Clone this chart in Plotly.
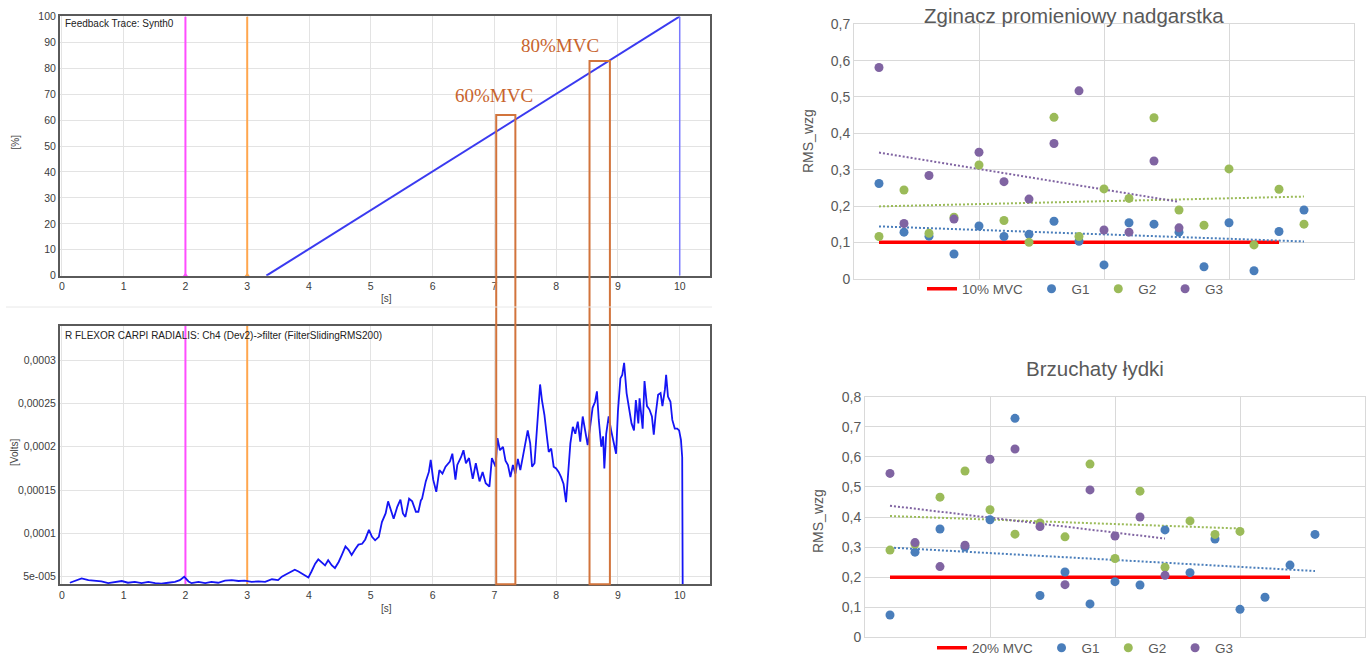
import numpy as np
import plotly.graph_objects as go

W, H = 1370, 655

# ---------------- data: feedback trace (top-left) ----------------
ramp_t = [3.31, 10.0]
ramp_pct = [0, 100]
end_t = [10.0, 10.0]
end_pct = [0, 100]
event_t = [2, 3]
event_colors = ["#ff4dff", "#ffa64d"]
mvc_labels = ["60%MVC", "80%MVC"]
mvc_windows = [(7.03, 7.34), (8.54, 8.87)]
mvc_levels = [62.0, 82.8]

# ---------------- data: EMG RMS (bottom-left), values in 1e-5 V ----------------
emg_t = [0.13, 0.21, 0.32, 0.43, 0.53, 0.64, 0.75, 0.86, 0.97, 1.07, 1.18, 1.29, 1.40, 1.51,
         1.61, 1.72, 1.83, 1.91, 1.98, 2.05, 2.10, 2.21, 2.32, 2.42, 2.53, 2.64, 2.75, 2.86,
         2.96, 3.07, 3.18, 3.29, 3.40,
         3.50, 3.56, 3.61, 3.69, 3.77, 3.83, 3.91, 3.99, 4.04, 4.10, 4.15, 4.21, 4.26, 4.31,
         4.37, 4.42, 4.48, 4.53, 4.59, 4.64, 4.69, 4.75, 4.80, 4.86, 4.91, 4.97, 5.02, 5.07,
         5.13, 5.18, 5.24, 5.28, 5.32, 5.37, 5.43, 5.48, 5.52, 5.56, 5.62, 5.67, 5.73, 5.77,
         5.81, 5.83, 5.89, 5.94, 5.97, 6.01, 6.06, 6.11, 6.16, 6.21, 6.28, 6.32, 6.37, 6.40,
         6.46, 6.50, 6.54, 6.59, 6.65, 6.70, 6.76, 6.81, 6.86, 6.92, 6.96,
         7.02, 7.05, 7.09, 7.14, 7.18, 7.22, 7.26, 7.30, 7.34, 7.38, 7.42, 7.46, 7.50, 7.54,
         7.58, 7.61, 7.65, 7.69, 7.72, 7.74, 7.77, 7.81, 7.85, 7.88, 7.92, 7.96, 8.00, 8.04,
         8.08, 8.12, 8.16, 8.19, 8.23, 8.27, 8.31, 8.35, 8.39, 8.43, 8.48, 8.51, 8.55, 8.59,
         8.63, 8.66, 8.69, 8.73, 8.76, 8.78, 8.81, 8.85, 8.89, 8.93, 8.97, 9.00, 9.04, 9.07,
         9.10, 9.14, 9.18, 9.22, 9.26, 9.29, 9.33, 9.35, 9.40, 9.43, 9.47, 9.51, 9.55, 9.58,
         9.61, 9.65, 9.69, 9.72, 9.76, 9.78, 9.81, 9.85, 9.88, 9.92, 9.96, 9.99, 10.02, 10.04,
         10.05]
emg_v_1e5 = [4.3, 4.55, 4.8, 4.6, 4.5, 4.45, 4.25, 4.4, 4.5, 4.3, 4.4, 4.25, 4.4, 4.25,
             4.2, 4.3, 4.4, 4.6, 5.0, 4.45, 4.25, 4.4, 4.25, 4.4, 4.3, 4.55, 4.6, 4.5,
             4.55, 4.4, 4.45, 4.4, 4.7,
             4.6, 5.0, 5.2, 5.5, 5.8, 5.6, 5.2, 4.9, 5.6, 6.5, 7.0, 6.6, 6.3, 6.9,
             6.3, 6.0, 6.7, 7.5, 8.5, 8.1, 7.5, 8.2, 8.7, 8.8, 9.3, 10.4, 9.6, 9.2,
             9.6, 11.3, 12.3, 13.7, 12.7, 11.7, 13.1, 13.9, 12.3, 11.9, 14.0, 13.7, 12.5, 12.5,
             13.8, 14.0, 16.0, 17.1, 18.5, 16.2, 14.8, 17.3, 16.9, 17.7, 18.3, 19.2, 16.2, 17.9,
             18.8, 19.6, 18.1, 18.7, 16.3, 18.1, 16.0, 17.1, 15.8, 15.4, 18.7,
             17.7, 21.0, 19.6, 20.0, 18.4, 17.9, 16.5, 17.9, 16.9, 18.6, 17.3, 18.8, 20.6, 21.9,
             20.4, 17.7, 18.1, 21.9, 24.5, 27.2, 25.4, 23.7, 21.2, 19.4, 19.8, 17.7, 17.5, 17.1,
             16.5, 15.7, 13.6, 16.1, 20.4, 22.3, 21.5, 22.9, 20.6, 23.5, 21.2, 20.2, 22.3, 24.5,
             25.2, 26.4, 23.1, 20.0, 21.2, 17.5, 21.5, 23.5, 21.9, 20.6, 19.2, 24.1, 27.9, 28.3,
             29.7, 26.2, 24.3, 22.7, 21.9, 25.4, 22.7, 25.6, 22.1, 27.6, 24.7, 24.3, 23.5, 21.4,
             23.7, 26.0, 26.2, 24.7, 26.6, 28.3, 25.8, 25.2, 23.1, 22.1, 22.1, 21.9, 20.8, 18.8,
             0.0]
emg_ticks = [5e-5, 1e-4, 1.5e-4, 2e-4, 2.5e-4, 3e-4]
emg_ticktext = ["5e-005", "0,0001", "0,00015", "0,0002", "0,00025", "0,0003"]

# ---------------- data: scatter charts (right) ----------------
zg_g1 = [0.262, 0.128, 0.117, 0.068, 0.145, 0.116, 0.122, 0.158, 0.103, 0.038, 0.154, 0.150,
         0.128, 0.033, 0.154, 0.022, 0.130, 0.189]
zg_g2 = [0.116, 0.244, 0.125, 0.169, 0.313, 0.160, 0.100, 0.444, 0.116, 0.247, 0.221, 0.443,
         0.189, 0.147, 0.302, 0.093, 0.246, 0.150]
zg_g3 = [0.581, 0.152, 0.284, 0.164, 0.348, 0.267, 0.219, 0.372, 0.517, 0.134, 0.128, 0.324,
         0.140]
zg_mvc = 0.1
br_g1 = [0.074, 0.283, 0.360, 0.300, 0.391, 0.728, 0.139, 0.217, 0.111, 0.185, 0.174, 0.357,
         0.215, 0.327, 0.093, 0.133, 0.240, 0.342]
br_g2 = [0.290, 0.310, 0.466, 0.553, 0.424, 0.343, 0.380, 0.334, 0.576, 0.262, 0.486, 0.233,
         0.387, 0.342, 0.352]
br_g3 = [0.545, 0.315, 0.235, 0.306, 0.592, 0.626, 0.368, 0.175, 0.490, 0.337, 0.400, 0.206]
br_mvc = 0.2
mvc_span = [1, 17]
group_names = ["G1", "G2", "G3"]
group_colors = ["#4a7ebb", "#9bbb59", "#8064a2"]

NB = "\u00a0"

# ---------------- layout geometry ----------------
def px_x(p):
    return p / W

def px_y(p):
    return 1 - p / H

dom_left_x = [px_x(60), px_x(710)]
dom_tl_y = [px_y(275.7), px_y(16.4)]
dom_bl_y = [px_y(584.3), px_y(326)]
dom_tr_x = [px_x(854), px_x(1354)]
dom_tr_y = [px_y(278.7), px_y(24.3)]
dom_br_x = [px_x(865), px_x(1365)]
dom_br_y = [px_y(637.3), px_y(396.7)]

fig = go.Figure()

# ---- top-left traces
for t, c in zip(event_t, event_colors):
    fig.add_trace(go.Scatter(x=[t, t], y=[0, 100], mode="lines", line=dict(color=c, width=2),
                             xaxis="x", yaxis="y", showlegend=False, hoverinfo="skip"))
    fig.add_trace(go.Scatter(x=[t], y=[0], mode="markers", marker=dict(symbol="triangle-up", size=6, color=c),
                             xaxis="x", yaxis="y", showlegend=False, hoverinfo="skip", cliponaxis=False))
fig.add_trace(go.Scatter(x=ramp_t, y=ramp_pct, mode="lines", line=dict(color="#3a3af0", width=2),
                         xaxis="x", yaxis="y", showlegend=False))
fig.add_trace(go.Scatter(x=end_t, y=end_pct, mode="lines", line=dict(color="#7a7aff", width=1.5),
                         xaxis="x", yaxis="y", showlegend=False))

# ---- bottom-left traces
for t, c in zip(event_t, event_colors):
    fig.add_trace(go.Scatter(x=[t, t], y=[0, 1e-3], mode="lines", line=dict(color=c, width=2),
                             xaxis="x2", yaxis="y2", showlegend=False, hoverinfo="skip"))
emg_v = np.array(emg_v_1e5) * 1e-5
fig.add_trace(go.Scatter(x=emg_t, y=emg_v, mode="lines", line=dict(color="#1515f5", width=1.8),
                         xaxis="x2", yaxis="y2", showlegend=False))

# ---- right scatter charts
def add_scatter_chart(xa, ya, groups, mvc, mvc_name, legend):
    fig.add_trace(go.Scatter(x=mvc_span, y=[mvc, mvc], mode="lines", name=mvc_name + NB,
                             line=dict(color="#ff0000", width=3.5), xaxis=xa, yaxis=ya,
                             legend=legend))
    for vals, name, col in zip(groups, group_names, group_colors):
        xs = np.arange(1, len(vals) + 1)
        k, b = np.polyfit(xs, vals, 1)
        fig.add_trace(go.Scatter(x=[xs[0], xs[-1]], y=[k * xs[0] + b, k * xs[-1] + b], mode="lines",
                                 line=dict(color=col, width=2, dash="2px,2px"), xaxis=xa, yaxis=ya,
                                 showlegend=False, hoverinfo="skip"))
    for vals, name, col in zip(groups, group_names, group_colors):
        xs = np.arange(1, len(vals) + 1)
        fig.add_trace(go.Scatter(x=xs, y=vals, mode="markers", name=name + NB,
                                 marker=dict(color=col, size=9), xaxis=xa, yaxis=ya, legend=legend))

add_scatter_chart("x3", "y3", [zg_g1, zg_g2, zg_g3], zg_mvc, "10% MVC", "legend")
add_scatter_chart("x4", "y4", [br_g1, br_g2, br_g3], br_mvc, "20% MVC", "legend2")

# ---- axes
left_tick_font = dict(family="Liberation Sans, Arial, sans-serif", size=10.5, color="#3c3c3c")
left_common = dict(showgrid=True, gridcolor="#e3e3e3", gridwidth=1, zeroline=False, showline=True,
                   mirror=True, linecolor="#5a5a5a", linewidth=2, ticks="", tickfont=left_tick_font)
xr = [-0.03, 10.49]
right_tick_font = dict(family="Liberation Sans, Arial, sans-serif", size=14, color="#595959")
right_common_y = dict(showgrid=True, gridcolor="#d9d9d9", zeroline=False, showline=True, mirror=True,
                      linecolor="#d9d9d9", linewidth=1, ticks="", tickfont=right_tick_font, dtick=0.1, tick0=0)
right_common_x = dict(showgrid=True, gridcolor="#d9d9d9", zeroline=False, showline=True, mirror=True,
                      linecolor="#d9d9d9", linewidth=1, ticks="", showticklabels=False,
                      range=[0, 20], dtick=5, tick0=0)
legend_font = dict(family="Liberation Sans, Arial, sans-serif", size=13.5, color="#595959")

fig.update_layout(
    width=W, height=H, margin=dict(l=0, r=0, t=0, b=0, autoexpand=False),
    paper_bgcolor="white", plot_bgcolor="white", separators=", ",
    xaxis=dict(domain=dom_left_x, anchor="y", range=xr, dtick=1, tick0=0, **left_common),
    yaxis=dict(domain=dom_tl_y, anchor="x", range=[0, 100], dtick=10, tick0=0, **left_common),
    xaxis2=dict(domain=dom_left_x, anchor="y2", range=xr, dtick=1, tick0=0, **left_common),
    yaxis2=dict(domain=dom_bl_y, anchor="x2", range=[4.12e-5, 3.395e-4], tickvals=emg_ticks,
                ticktext=emg_ticktext, **left_common),
    xaxis3=dict(domain=dom_tr_x, anchor="y3", **right_common_x),
    yaxis3=dict(domain=dom_tr_y, anchor="x3", range=[0, 0.7], **right_common_y),
    xaxis4=dict(domain=dom_br_x, anchor="y4", **right_common_x),
    yaxis4=dict(domain=dom_br_y, anchor="x4", range=[0, 0.8], **right_common_y),
    legend=dict(orientation="h", x=px_x(922), y=px_y(289), xanchor="left", yanchor="middle",
                font=legend_font, bgcolor="rgba(0,0,0,0)", itemwidth=30, tracegroupgap=0),
    legend2=dict(orientation="h", x=px_x(932), y=px_y(648), xanchor="left", yanchor="middle",
                 font=legend_font, bgcolor="rgba(0,0,0,0)", itemwidth=30, tracegroupgap=0),
)

# ---- MVC windows spanning both left panels
box_color = "#d2743c"
shapes = []
for (a, b), lvl in zip(mvc_windows, mvc_levels):
    top = dom_tl_y[0] + lvl / 100 * (dom_tl_y[1] - dom_tl_y[0])
    shapes.append(dict(type="rect", xref="x", yref="paper", x0=a, x1=b, y0=dom_bl_y[0], y1=top,
                       line=dict(color=box_color, width=2), fillcolor="rgba(0,0,0,0)", layer="above"))
shapes.append(dict(type="line", xref="paper", yref="paper", x0=px_x(6), x1=px_x(712),
                   y0=px_y(307), y1=px_y(307), line=dict(color="#e8e8e8", width=1)))
fig.update_layout(shapes=shapes)

serif = "Liberation Serif, Times New Roman, serif"
sans = "Liberation Sans, Arial, sans-serif"


def paper_text(x, y, text, size, color, angle=0, xanchor="center"):
    return dict(x=px_x(x), y=px_y(y), xref="paper", yref="paper", text=text, showarrow=False,
                xanchor=xanchor, yanchor="middle", textangle=angle,
                font=dict(family=sans, size=size, color=color))


ann = []
label_pos = [(7.0, 69.4), (8.065, 88.6)]
for (lx, ly), txt in zip(label_pos, mvc_labels):
    ann.append(dict(x=lx, y=ly, xref="x", yref="y", text=txt, showarrow=False,
                    xanchor="center", yanchor="middle",
                    font=dict(family=serif, size=19, color="#c8642d")))
ann += [
    paper_text(63, 24, "Feedback Trace: Synth0", 10, "#222", xanchor="left"),
    paper_text(63, 335, "R FLEXOR CARPI RADIALIS: Ch4 (Dev2)-&gt;filter (FilterSlidingRMS200)", 10, "#222",
               xanchor="left"),
    paper_text(15, 142.5, "[%]", 10, "#444", angle=-90),
    paper_text(14, 453, "[Volts]", 10, "#444", angle=-90),
    paper_text(386, 298.5, "[s]", 10, "#444"),
    paper_text(386, 608.5, "[s]", 10, "#444"),
    paper_text(1074, 15, "Zginacz promieniowy nadgarstka", 20.5, "#595959"),
    paper_text(1094.5, 368, "Brzuchaty łydki", 20.5, "#595959"),
    paper_text(808, 141, "RMS_wzg", 14, "#595959", angle=-90),
    paper_text(818, 521, "RMS_wzg", 14, "#595959", angle=-90),
]
fig.update_layout(annotations=ann)

fig.write_html("out.html")
